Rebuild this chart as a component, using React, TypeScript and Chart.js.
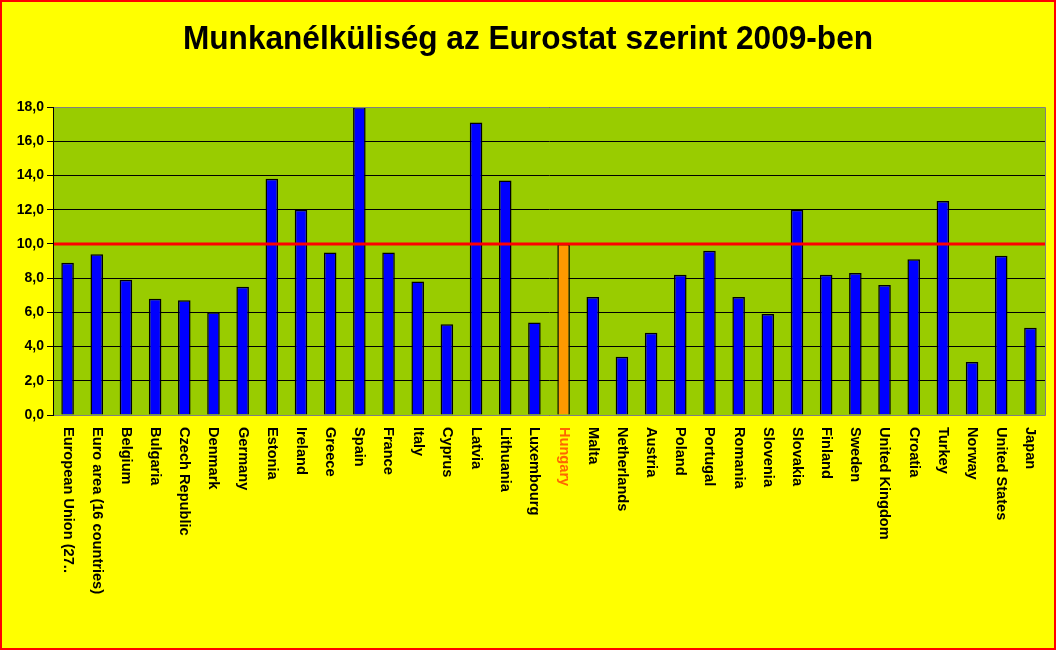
import React, { useEffect, useRef } from "react";
import { Chart, registerables } from "chart.js";

Chart.register(...registerables);

const TITLE = "Munkanélküliség az Eurostat szerint 2009-ben";

const categories: string[] = [
  "European Union (27..",
  "Euro area (16 countries)",
  "Belgium",
  "Bulgaria",
  "Czech Republic",
  "Denmark",
  "Germany",
  "Estonia",
  "Ireland",
  "Greece",
  "Spain",
  "France",
  "Italy",
  "Cyprus",
  "Latvia",
  "Lithuania",
  "Luxembourg",
  "Hungary",
  "Malta",
  "Netherlands",
  "Austria",
  "Poland",
  "Portugal",
  "Romania",
  "Slovenia",
  "Slovakia",
  "Finland",
  "Sweden",
  "United Kingdom",
  "Croatia",
  "Turkey",
  "Norway",
  "United States",
  "Japan",
];

const unemployment: number[] = [
  8.9, 9.4, 7.9, 6.8, 6.7, 6.0, 7.5, 13.8, 12.0, 9.5, 18.0, 9.5, 7.8, 5.3,
  17.1, 13.7, 5.4, 10.0, 6.9, 3.4, 4.8, 8.2, 9.6, 6.9, 5.9, 12.0, 8.2, 8.3,
  7.6, 9.1, 12.5, 3.1, 9.3, 5.1,
];

const highlighted = "Hungary";
const referenceLevel = 10.0;
const yMin = 0;
const yMax = 18;
const yStep = 2;

export default function App() {
  const ref = useRef<HTMLCanvasElement | null>(null);

  useEffect(() => {
    const canvas = ref.current;
    if (!canvas) return;

    const decor = {
      id: "decor",
      beforeDraw(chart: any) {
        const { ctx, chartArea: a, width, height } = chart;
        ctx.save();
        ctx.fillStyle = "#FFFF00";
        ctx.fillRect(0, 0, width, height);
        ctx.fillStyle = "#99CC00";
        ctx.fillRect(a.left, a.top, a.right - a.left, a.bottom - a.top);
        ctx.restore();
      },
      afterDatasetsDraw(chart: any) {
        const { ctx, chartArea: a, scales } = chart;
        const y = scales.y.getPixelForValue(referenceLevel);
        ctx.save();
        ctx.strokeStyle = "#FF0000";
        ctx.lineWidth = 3;
        ctx.beginPath();
        ctx.moveTo(a.left, y);
        ctx.lineTo(a.right, y);
        ctx.stroke();
        ctx.strokeStyle = "#808080";
        ctx.lineWidth = 1;
        ctx.beginPath();
        ctx.moveTo(a.left, a.top + 0.5);
        ctx.lineTo(a.right + 0.5, a.top + 0.5);
        ctx.lineTo(a.right + 0.5, a.bottom + 0.5);
        ctx.lineTo(a.left, a.bottom + 0.5);
        ctx.stroke();
        ctx.strokeStyle = "#000000";
        ctx.beginPath();
        ctx.moveTo(a.left + 0.5, a.top);
        ctx.lineTo(a.left + 0.5, a.bottom + 1);
        ctx.stroke();
        ctx.restore();
      },
      afterDraw(chart: any) {
        const { ctx, scales, width, height } = chart;
        ctx.save();
        ctx.fillStyle = "#000000";
        ctx.font = "bold 34px 'Liberation Sans', Arial, sans-serif";
        ctx.textBaseline = "alphabetic";
        ctx.textAlign = "left";
        const tw = ctx.measureText(TITLE).width;
        const target = 690;
        ctx.translate(183, 49);
        ctx.scale(target / tw, 1);
        ctx.fillText(TITLE, 0, 0);
        ctx.setTransform(1, 0, 0, 1, 0, 0);
        ctx.font = "bold 14.6px 'Liberation Sans', Arial, sans-serif";
        ctx.textBaseline = "middle";
        ctx.textAlign = "left";
        categories.forEach((lab, i) => {
          const x = scales.x.getPixelForValue(i);
          ctx.save();
          ctx.translate(x, 427);
          ctx.rotate(Math.PI / 2);
          ctx.fillStyle = lab === highlighted ? "#FF6600" : "#000000";
          ctx.fillText(lab, 0, 0);
          ctx.restore();
        });
        ctx.strokeStyle = "#FF0000";
        ctx.lineWidth = 2;
        ctx.strokeRect(1, 1, width - 2, height - 2);
        ctx.restore();
      },
    };

    const chart = new Chart(canvas, {
      type: "bar",
      data: {
        labels: categories,
        datasets: [
          {
            data: unemployment,
            backgroundColor: categories.map((c) =>
              c === highlighted ? "#FF9900" : "#0000FF"
            ),
            borderColor: "#000000",
            borderWidth: 1.5,
            barPercentage: 0.43,
            categoryPercentage: 1,
          },
        ],
      },
      options: {
        responsive: false,
        animation: false,
        devicePixelRatio: 1,
        layout: { padding: { top: 107, right: 11, bottom: 0, left: 0 } },
        plugins: {
          legend: { display: false },
          tooltip: { enabled: false },
          title: { display: false },
        },
        scales: {
          x: {
            ticks: { display: false },
            grid: { display: false },
            border: { display: false },
            afterFit: (s: any) => {
              s.height = 235;
            },
          },
          y: {
            min: yMin,
            max: yMax,
            ticks: {
              stepSize: yStep,
              color: "#000000",
              padding: 3,
              font: { family: "'Liberation Sans', Arial, sans-serif", size: 14, weight: "bold" },
              callback: (v: any) => Number(v).toFixed(1).replace(".", ","),
            },
            grid: {
              color: "#000000",
              lineWidth: 1,
              tickLength: 6,
            },
            border: { display: true, color: "#000000", width: 1 },
            afterFit: (s: any) => {
              s.width = 53;
            },
          },
        },
      },
      plugins: [decor],
    });

    return () => chart.destroy();
  }, []);

  return (
    <div style={{ position: "fixed", left: 0, top: 0, width: 1056, height: 650 }}>
      <canvas ref={ref} width={1056} height={650} style={{ width: 1056, height: 650, display: "block" }} />
    </div>
  );
}
